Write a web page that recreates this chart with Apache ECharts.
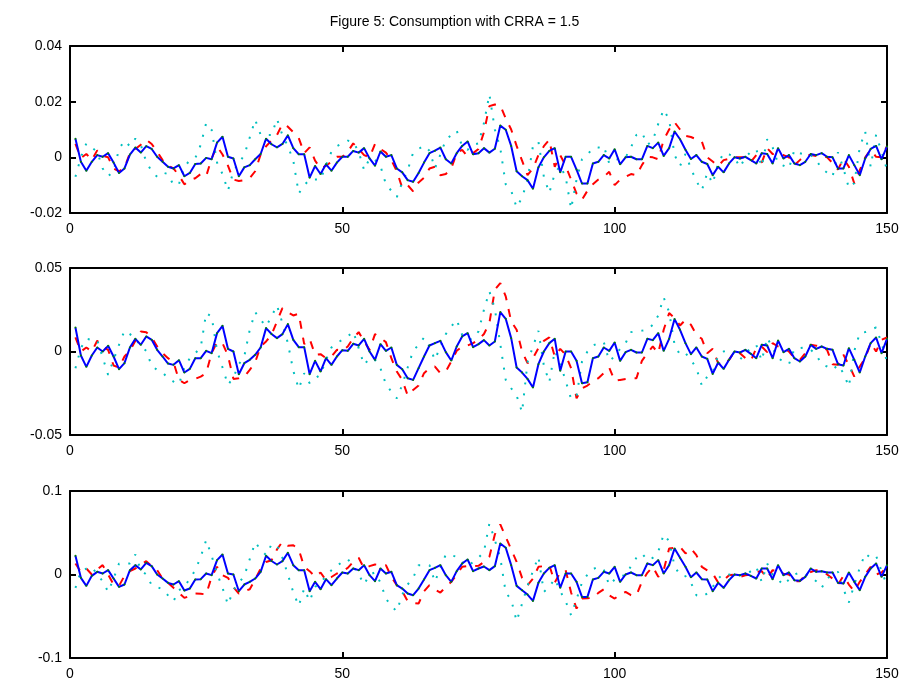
<!DOCTYPE html>
<html><head><meta charset="utf-8">
<script src="https://cdn.jsdelivr.net/npm/echarts@6/dist/echarts.min.js"></script>
<style>html,body{margin:0;padding:0;background:#fff}#c{width:909px;height:685px}</style>
</head><body><div id="c"></div>
<script>
const chartTitle = 'Figure 5: Consumption with CRRA = 1.5';
const xTicks = [0, 50, 100, 150];
const yTicks1 = [-0.02, 0, 0.02, 0.04];
const yTicks2 = [-0.05, 0, 0.05];
const yTicks3 = [-0.1, 0, 0.1];

const blue1 = [
0.0067,-0.0016,-0.0048,-0.0016,0.0008,0.0002,0.0015,-0.0019,-0.0056,-0.0040,
0.0010,0.0035,0.0017,0.0040,0.0030,0.0002,-0.0016,-0.0034,-0.0040,-0.0028,
-0.0068,-0.0056,-0.0024,-0.0022,-0.0002,-0.0007,0.0053,0.0074,0.0002,-0.0004,
-0.0068,-0.0036,-0.0028,-0.0007,0.0012,0.0067,0.0047,0.0036,0.0048,0.0079,
0.0033,0.0011,0.0011,-0.0073,-0.0031,-0.0060,-0.0025,-0.0048,-0.0019,0.0002,
0.0002,0.0023,0.0017,0.0033,-0.0004,-0.0030,0.0021,0.0002,0.0008,-0.0040,
-0.0054,-0.0082,-0.0088,-0.0056,-0.0019,0.0015,0.0024,0.0035,-0.0007,-0.0022,
0.0015,0.0041,0.0057,0.0011,0.0015,0.0033,0.0017,0.0031,0.0114,0.0099,
0.0041,-0.0050,-0.0068,-0.0082,-0.0113,-0.0036,0.0000,0.0023,0.0033,-0.0054,
0.0002,0.0002,-0.0044,-0.0094,-0.0094,-0.0022,-0.0016,0.0008,-0.0004,0.0029,
-0.0025,0.0000,0.0002,-0.0007,-0.0007,0.0041,0.0033,0.0053,0.0005,0.0033,
0.0093,0.0065,0.0027,-0.0006,0.0008,-0.0016,-0.0024,-0.0064,-0.0034,-0.0054,
-0.0022,0.0000,-0.0004,0.0002,-0.0010,-0.0022,0.0015,0.0012,-0.0022,0.0033,
-0.0004,0.0008,-0.0022,-0.0028,-0.0016,0.0012,0.0008,0.0015,0.0002,0.0000,
-0.0040,-0.0040,0.0008,-0.0028,-0.0064,-0.0004,0.0030,0.0041,-0.0007,0.0039];

const red1 = [
0.0048,-0.0003,0.0012,-0.0010,0.0025,0.0005,0.0000,-0.0040,-0.0050,-0.0038,
0.0015,0.0030,0.0045,0.0063,0.0048,0.0020,-0.0010,-0.0030,-0.0040,-0.0065,
-0.0097,-0.0082,-0.0075,-0.0060,-0.0068,-0.0004,0.0040,0.0010,-0.0030,-0.0080,
-0.0085,-0.0082,-0.0075,-0.0050,0.0010,0.0040,0.0060,0.0080,0.0120,0.0110,
0.0090,0.0069,0.0015,0.0036,-0.0012,-0.0040,-0.0030,-0.0016,0.0002,0.0002,
0.0020,0.0050,0.0030,0.0008,0.0000,0.0048,0.0030,0.0017,-0.0010,-0.0050,
-0.0110,-0.0100,-0.0122,-0.0090,-0.0073,-0.0040,-0.0034,-0.0064,-0.0060,-0.0040,
0.0015,0.0027,0.0002,0.0015,0.0030,0.0090,0.0184,0.0190,0.0186,0.0140,
0.0100,0.0041,-0.0012,-0.0064,-0.0040,0.0008,0.0040,0.0063,-0.0034,0.0008,
-0.0030,-0.0080,-0.0130,-0.0152,-0.0120,-0.0097,-0.0080,-0.0070,-0.0052,-0.0100,
-0.0080,-0.0070,-0.0060,-0.0064,-0.0028,0.0002,0.0000,-0.0007,0.0063,0.0100,
0.0126,0.0100,0.0077,0.0073,0.0065,0.0057,0.0000,-0.0015,-0.0031,-0.0010,
-0.0005,0.0000,0.0000,0.0000,-0.0016,0.0008,-0.0019,0.0033,0.0012,0.0010,
0.0008,0.0000,-0.0028,-0.0010,0.0008,0.0008,0.0005,0.0005,0.0000,-0.0020,
-0.0044,-0.0004,-0.0034,-0.0094,-0.0046,0.0000,0.0027,0.0002,0.0000,0.0040];

const cyan1 = [
-0.0070,0.0000,0.0050,0.0035,0.0020,-0.0040,-0.0068,-0.0050,0.0030,0.0060,
0.0040,0.0067,0.0045,-0.0016,-0.0050,-0.0070,-0.0055,-0.0060,-0.0100,-0.0097,
-0.0034,-0.0010,-0.0003,0.0045,0.0123,0.0099,-0.0019,-0.0060,-0.0120,-0.0050,
-0.0020,0.0008,0.0071,0.0135,0.0081,0.0080,0.0080,0.0138,0.0080,0.0040,
-0.0012,-0.0130,-0.0100,-0.0080,-0.0080,-0.0080,-0.0028,0.0020,0.0040,0.0050,
0.0060,0.0055,0.0020,-0.0046,-0.0004,-0.0010,-0.0031,-0.0097,-0.0120,-0.0143,
-0.0090,-0.0046,0.0017,0.0030,0.0042,0.0024,-0.0040,0.0010,0.0063,0.0080,
0.0096,0.0040,0.0027,0.0045,0.0050,0.0123,0.0226,0.0100,0.0033,-0.0097,
-0.0120,-0.0180,-0.0145,-0.0082,0.0041,0.0057,-0.0070,-0.0128,-0.0058,-0.0030,
-0.0070,-0.0185,-0.0080,-0.0007,0.0010,0.0033,0.0035,0.0041,-0.0022,-0.0010,
-0.0005,0.0000,0.0036,0.0081,0.0090,0.0045,0.0060,0.0120,0.0172,0.0136,
0.0008,-0.0031,0.0012,-0.0040,-0.0085,-0.0119,-0.0056,-0.0094,-0.0020,0.0015,
0.0011,0.0000,-0.0036,0.0000,0.0020,0.0029,-0.0034,0.0065,0.0036,-0.0022,
-0.0030,-0.0040,0.0027,0.0015,0.0010,0.0008,-0.0010,-0.0040,-0.0055,-0.0070,
0.0018,-0.0040,-0.0110,-0.0092,0.0036,0.0093,-0.0034,0.0081,0.0020,-0.0044];

const blue2 = [
0.0144,-0.0024,-0.0092,-0.0024,0.0024,0.0000,0.0034,-0.0030,-0.0106,-0.0070,
0.0024,0.0076,0.0040,0.0090,0.0070,0.0010,-0.0030,-0.0072,-0.0080,-0.0052,
-0.0126,-0.0104,-0.0040,-0.0040,0.0004,-0.0010,0.0110,0.0154,0.0016,0.0000,
-0.0136,-0.0070,-0.0050,-0.0020,0.0024,0.0140,0.0105,0.0080,0.0104,0.0164,
0.0070,0.0026,0.0026,-0.0136,-0.0056,-0.0120,-0.0040,-0.0080,-0.0030,0.0008,
0.0004,0.0046,0.0036,0.0076,0.0000,-0.0050,0.0044,0.0004,0.0024,-0.0080,
-0.0106,-0.0160,-0.0170,-0.0100,-0.0030,0.0036,0.0050,0.0064,-0.0004,-0.0054,
0.0030,0.0090,0.0110,0.0026,0.0044,0.0068,0.0036,0.0060,0.0236,0.0196,
0.0080,-0.0096,-0.0126,-0.0164,-0.0216,-0.0076,0.0000,0.0050,0.0076,-0.0116,
0.0000,0.0000,-0.0056,-0.0190,-0.0184,-0.0040,-0.0030,0.0024,0.0004,0.0054,
-0.0056,-0.0004,0.0010,-0.0006,-0.0006,0.0076,0.0068,0.0110,0.0004,0.0076,
0.0194,0.0130,0.0050,-0.0016,0.0024,-0.0030,-0.0044,-0.0134,-0.0066,-0.0104,
-0.0050,0.0000,-0.0006,0.0010,-0.0014,-0.0040,0.0040,0.0036,-0.0040,0.0066,
-0.0004,0.0016,-0.0040,-0.0060,-0.0030,0.0040,0.0016,0.0030,0.0016,0.0010,
-0.0076,-0.0084,0.0020,-0.0050,-0.0126,-0.0030,0.0050,0.0084,-0.0010,0.0076];

const red2 = [
0.0084,0.0000,0.0024,0.0000,0.0064,0.0030,0.0010,-0.0084,-0.0096,-0.0030,
0.0004,0.0064,0.0120,0.0115,0.0084,0.0030,-0.0010,-0.0040,-0.0064,-0.0170,
-0.0190,-0.0170,-0.0164,-0.0150,-0.0130,-0.0010,0.0056,0.0050,-0.0024,-0.0164,
-0.0160,-0.0150,-0.0110,-0.0064,0.0030,0.0060,0.0100,0.0180,0.0260,0.0235,
0.0216,0.0226,0.0044,0.0076,-0.0020,-0.0016,-0.0040,-0.0030,0.0010,0.0006,
0.0030,0.0080,0.0116,0.0060,0.0010,0.0104,0.0080,0.0056,-0.0040,-0.0120,
-0.0170,-0.0264,-0.0230,-0.0204,-0.0130,-0.0100,-0.0090,-0.0130,-0.0120,-0.0060,
0.0004,0.0030,0.0036,0.0050,0.0070,0.0105,0.0170,0.0370,0.0410,0.0330,
0.0180,0.0130,0.0000,-0.0070,-0.0040,0.0020,0.0064,0.0084,-0.0030,0.0016,
-0.0020,-0.0100,-0.0280,-0.0220,-0.0204,-0.0180,-0.0160,-0.0130,-0.0096,-0.0176,
-0.0170,-0.0165,-0.0160,-0.0160,-0.0056,-0.0010,0.0030,-0.0010,0.0130,0.0230,
0.0200,0.0156,0.0190,0.0160,0.0100,0.0076,-0.0010,0.0016,-0.0070,-0.0080,
-0.0050,0.0000,-0.0010,-0.0040,-0.0056,0.0020,0.0030,-0.0004,0.0050,0.0030,
0.0020,0.0000,-0.0040,-0.0050,-0.0010,0.0040,0.0035,0.0030,0.0010,-0.0076,
-0.0080,-0.0020,-0.0080,-0.0150,-0.0090,-0.0040,0.0050,0.0000,0.0070,0.0084];

const cyan2 = [
-0.0100,0.0020,0.0076,0.0070,0.0068,-0.0036,-0.0140,-0.0050,0.0040,0.0124,
0.0104,0.0080,0.0030,0.0004,-0.0086,-0.0110,-0.0126,-0.0160,-0.0180,-0.0196,
-0.0096,-0.0040,-0.0010,0.0024,0.0230,0.0210,0.0004,-0.0096,-0.0200,-0.0156,
-0.0076,-0.0030,0.0130,0.0236,0.0190,0.0150,0.0210,0.0276,0.0170,0.0050,
-0.0116,-0.0224,-0.0130,-0.0190,-0.0160,-0.0140,-0.0050,0.0024,0.0050,0.0070,
0.0090,0.0120,0.0020,-0.0080,-0.0040,-0.0050,-0.0100,-0.0196,-0.0240,-0.0280,
-0.0200,-0.0096,0.0004,0.0040,0.0084,0.0030,-0.0050,0.0030,0.0104,0.0150,
0.0190,0.0100,0.0070,0.0076,0.0120,0.0250,0.0360,0.0256,0.0044,-0.0170,
-0.0220,-0.0264,-0.0364,-0.0064,0.0030,0.0124,-0.0084,-0.0184,0.0004,-0.0070,
-0.0176,-0.0284,-0.0270,-0.0060,0.0000,0.0036,0.0050,0.0056,-0.0056,-0.0030,
0.0016,0.0050,0.0116,0.0120,0.0125,0.0130,0.0160,0.0216,0.0324,0.0236,
0.0040,-0.0020,-0.0010,-0.0050,-0.0100,-0.0204,-0.0150,-0.0124,-0.0024,0.0000,
0.0010,-0.0020,-0.0050,-0.0010,0.0020,0.0040,-0.0056,0.0084,0.0020,-0.0040,
-0.0060,-0.0076,0.0016,0.0020,0.0024,0.0010,-0.0020,-0.0076,-0.0090,-0.0110,
-0.0080,-0.0130,-0.0210,0.0004,0.0110,0.0116,0.0130,0.0144,0.0050,-0.0060];

const blue3 = [
0.0224,-0.0040,-0.0136,-0.0016,0.0032,0.0012,0.0052,-0.0048,-0.0148,-0.0120,
0.0052,0.0112,0.0060,0.0140,0.0100,0.0000,-0.0048,-0.0100,-0.0120,-0.0080,
-0.0192,-0.0168,-0.0060,-0.0056,0.0012,-0.0008,0.0172,0.0240,0.0012,0.0000,
-0.0200,-0.0120,-0.0088,-0.0048,0.0032,0.0224,0.0162,0.0120,0.0160,0.0260,
0.0112,0.0052,0.0052,-0.0200,-0.0088,-0.0176,-0.0056,-0.0128,-0.0048,0.0024,
0.0012,0.0072,0.0052,0.0112,-0.0008,-0.0080,0.0072,0.0012,0.0032,-0.0128,
-0.0168,-0.0228,-0.0248,-0.0168,-0.0060,0.0052,0.0080,0.0112,-0.0008,-0.0088,
0.0040,0.0132,0.0180,0.0040,0.0072,0.0096,0.0052,0.0100,0.0372,0.0320,
0.0112,-0.0136,-0.0188,-0.0240,-0.0316,-0.0100,0.0012,0.0080,0.0112,-0.0160,
0.0012,0.0012,-0.0088,-0.0268,-0.0268,-0.0060,-0.0040,0.0032,0.0012,0.0092,
-0.0088,0.0000,0.0024,-0.0008,-0.0008,0.0132,0.0112,0.0172,0.0012,0.0112,
0.0312,0.0200,0.0092,-0.0034,0.0024,-0.0056,-0.0060,-0.0200,-0.0100,-0.0160,
-0.0068,0.0000,-0.0008,0.0012,-0.0016,-0.0048,0.0072,0.0072,-0.0056,0.0112,
-0.0008,0.0024,-0.0068,-0.0076,-0.0028,0.0072,0.0032,0.0040,0.0024,0.0024,
-0.0100,-0.0108,0.0024,-0.0088,-0.0188,-0.0028,0.0072,0.0132,-0.0028,0.0112];

const red3 = [
0.0132,0.0030,0.0072,0.0000,0.0060,0.0112,0.0000,-0.0120,-0.0136,-0.0016,
0.0040,0.0072,0.0120,0.0160,0.0100,0.0052,-0.0048,-0.0100,-0.0160,-0.0220,
-0.0280,-0.0256,-0.0228,-0.0230,-0.0240,-0.0028,0.0092,-0.0008,-0.0040,-0.0150,
-0.0228,-0.0200,-0.0176,-0.0060,0.0072,0.0150,0.0170,0.0300,0.0392,0.0344,
0.0350,0.0300,0.0092,0.0040,-0.0028,0.0024,-0.0068,-0.0030,0.0012,0.0040,
0.0080,0.0150,0.0200,0.0072,0.0100,0.0120,0.0112,0.0112,-0.0028,-0.0128,
-0.0200,-0.0320,-0.0340,-0.0348,-0.0200,-0.0128,-0.0180,-0.0216,-0.0150,-0.0088,
0.0000,0.0092,0.0100,0.0100,0.0104,0.0150,0.0212,0.0480,0.0600,0.0450,
0.0300,0.0152,-0.0040,-0.0128,-0.0050,0.0092,0.0100,0.0112,-0.0096,0.0024,
0.0052,-0.0216,-0.0408,-0.0288,-0.0285,-0.0280,-0.0220,-0.0176,-0.0250,-0.0288,
-0.0240,-0.0208,-0.0248,-0.0248,-0.0088,0.0020,0.0092,-0.0028,0.0052,0.0312,
0.0320,0.0332,0.0252,0.0312,0.0232,0.0092,0.0050,0.0012,-0.0096,-0.0068,
-0.0008,0.0000,-0.0028,-0.0010,0.0000,0.0030,0.0040,-0.0048,0.0052,0.0040,
0.0010,0.0000,-0.0080,-0.0080,-0.0008,0.0030,0.0052,0.0040,0.0000,-0.0048,
-0.0120,-0.0016,-0.0120,-0.0200,-0.0088,0.0000,0.0092,0.0000,0.0024,0.0090];

const cyan3 = [
-0.0160,0.0040,0.0070,0.0092,0.0000,-0.0080,-0.0208,-0.0050,0.0132,0.0132,
0.0132,0.0240,0.0052,0.0000,-0.0128,-0.0150,-0.0176,-0.0250,-0.0320,-0.0188,
-0.0150,-0.0048,0.0050,0.0212,0.0412,0.0224,0.0012,-0.0160,-0.0360,-0.0188,
-0.0100,-0.0016,0.0184,0.0384,0.0300,0.0232,0.0360,0.0352,0.0200,0.0000,
-0.0216,-0.0376,-0.0168,-0.0320,-0.0148,-0.0100,-0.0016,0.0050,0.0104,0.0150,
0.0184,0.0100,0.0000,-0.0120,0.0000,0.0024,-0.0096,-0.0288,-0.0380,-0.0440,
-0.0240,-0.0120,-0.0040,0.0112,0.0112,0.0112,-0.0088,0.0080,0.0240,0.0230,
0.0212,0.0150,0.0100,0.0150,0.0200,0.0272,0.0612,0.0412,0.0200,-0.0216,
-0.0300,-0.0560,-0.0348,-0.0136,0.0040,0.0212,-0.0208,-0.0150,-0.0050,-0.0200,
-0.0320,-0.0488,-0.0296,-0.0096,0.0000,0.0064,0.0092,0.0060,-0.0128,-0.0060,
-0.0020,-0.0008,0.0100,0.0200,0.0252,0.0172,0.0200,0.0272,0.0480,0.0400,
0.0100,-0.0008,-0.0020,-0.0096,-0.0248,-0.0268,-0.0228,-0.0148,-0.0050,0.0012,
0.0000,-0.0016,-0.0010,-0.0008,0.0040,0.0092,-0.0088,0.0132,0.0000,-0.0060,
-0.0128,-0.0060,0.0000,0.0024,0.0010,-0.0030,-0.0080,-0.0160,-0.0050,0.0000,
0.0032,-0.0176,-0.0336,-0.0120,0.0080,0.0252,0.0200,0.0224,0.0040,-0.0128];

const panels = [
  { blue: blue1, red: red1, cyan: cyan1, ticks: yTicks1, top: 46 },
  { blue: blue2, red: red2, cyan: cyan2, ticks: yTicks2, top: 268 },
  { blue: blue3, red: red3, cyan: cyan3, ticks: yTicks3, top: 491 }
];

const FONT = '"Liberation Sans", Arial, Helvetica, sans-serif';
const toXY = arr => arr.map((v, i) => [i + 1, v]);

const grid = [], xAxis = [], yAxis = [], series = [];
panels.forEach((p, g) => {
  grid.push({ left: 70, width: 817, top: p.top, height: 167, containLabel: false });
  const lineCommon = { show: true, onZero: false, lineStyle: { color: '#000', width: 2 } };
  const tickCommon = { show: true, inside: true, length: 6, lineStyle: { color: '#000', width: 2 } };
  const yMin = p.ticks[0], yMax = p.ticks[p.ticks.length - 1], yInt = p.ticks[1] - p.ticks[0];
  xAxis.push({ gridIndex: g, type: 'value', position: 'bottom', min: xTicks[0], max: xTicks[xTicks.length - 1],
    interval: xTicks[1] - xTicks[0], axisLine: lineCommon, axisTick: tickCommon, splitLine: { show: false },
    axisLabel: { color: '#000', fontSize: 14, fontFamily: FONT, margin: 9 } });
  xAxis.push({ gridIndex: g, type: 'value', position: 'top', min: xTicks[0], max: xTicks[xTicks.length - 1],
    interval: xTicks[1] - xTicks[0], axisLine: lineCommon, axisTick: tickCommon, splitLine: { show: false },
    axisLabel: { show: false } });
  yAxis.push({ gridIndex: g, type: 'value', position: 'left', min: yMin, max: yMax, interval: yInt,
    axisLine: lineCommon, axisTick: tickCommon, splitLine: { show: false },
    axisLabel: { color: '#000', fontSize: 14, fontFamily: FONT, margin: 8 } });
  yAxis.push({ gridIndex: g, type: 'value', position: 'right', min: yMin, max: yMax, interval: yInt,
    axisLine: lineCommon, axisTick: tickCommon, splitLine: { show: false }, axisLabel: { show: false } });
  const ax = { xAxisIndex: 2 * g, yAxisIndex: 2 * g };
  series.push(Object.assign({ type: 'line', data: toXY(p.red), symbol: 'none', silent: true,
    lineStyle: { color: '#ff0000', width: 2, type: [8, 9] } }, ax));
  series.push(Object.assign({ type: 'line', data: toXY(p.cyan), symbol: 'none', silent: true,
    lineStyle: { color: '#00bfbf', width: 2, type: [2, 9] } }, ax));
  series.push(Object.assign({ type: 'line', data: toXY(p.blue), symbol: 'circle', symbolSize: 2, silent: true,
    itemStyle: { color: '#008000', borderWidth: 0 },
    lineStyle: { color: '#0000ff', width: 2 } }, ax));
});

const chart = echarts.init(document.getElementById('c'), null, { renderer: 'canvas' });
chart.setOption({
  animation: false,
  backgroundColor: '#fff',
  title: { text: chartTitle, left: 'center', top: 10,
    textStyle: { color: '#000', fontSize: 14, fontWeight: 'normal', fontFamily: FONT } },
  grid, xAxis, yAxis, series
});
</script></body></html>
